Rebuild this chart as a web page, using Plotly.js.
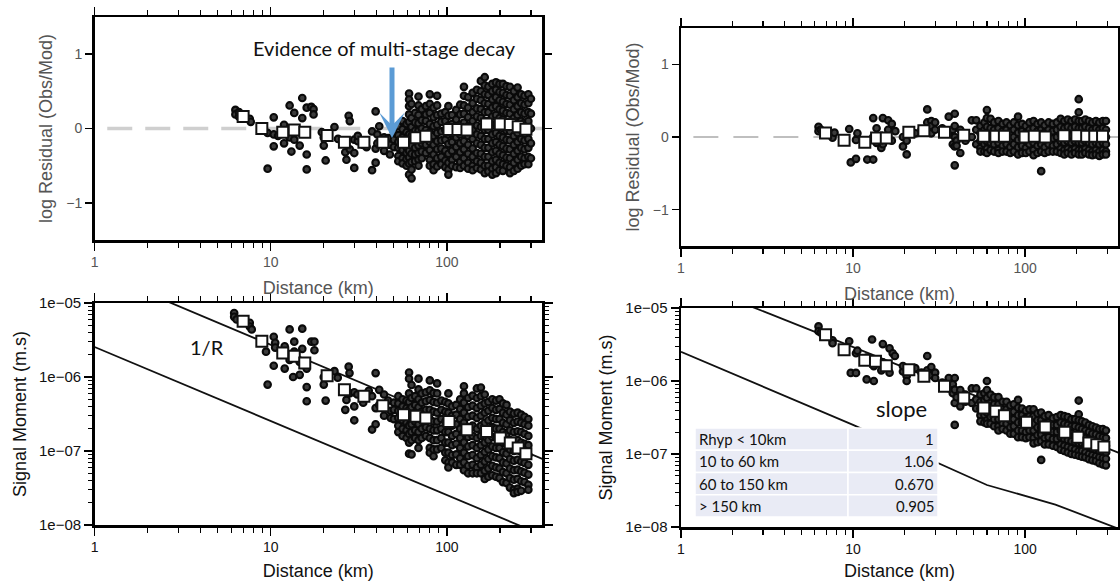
<!DOCTYPE html>
<html><head><meta charset="utf-8">
<script src="https://cdn.plot.ly/plotly-3.0.1.min.js"></script>
<style>html,body{margin:0;padding:0;background:#fff}#chart{width:1120px;height:581px}</style>
</head><body><div id="chart"></div>
<script>
// ---------- Panel A: log residual, 1/R model (top-left) ----------
const binDistA = [6.97,8.9,11.7,13.6,15.6,20.9,26.2,33.8,43.3,56.7,66.8,75.9,102.8,115.6,130,168,201,229,254,281];
const binResA  = [0.16,0.0,-0.05,-0.02,-0.05,-0.095,-0.185,-0.185,-0.185,-0.185,-0.126,-0.104,-0.014,-0.014,-0.02,0.06,0.06,0.055,0.025,-0.01];
const stDistA = [6.3,6.6,7.6,7.7,9.6,10.4,11.0,11.9,12.8,13.1,13.6,14.3,14.6,15.1,16.0,17.0,17.5,19.5,20.0,20.5,23.0,24.1,26.5,26.9,27.7,28.1,29.8,31.2,33.5,35.0,37.6,39.4,40.3,41.3,44.0,46.4,47.5,50.0,
  53,56,59,61,63,66,69,72,76,80,84,88,93,98,102,107,113,119,125,132,140,148,156,164,172,181,190,199,208,218,228,240,252,264,276,290,300];
const stResA = [[0.25,0.19],[0.16,0.22],[0.13],[0.09],[-0.54,-0.06],[-0.24,0.15,-0.08],[-0.1],[-0.2,0.05],[0.31,-0.12],[-0.31],[0.21,-0.15],[-0.05],[-0.23],[0.41,0.14],[0.28,-0.35,-0.55],[0.29],[0.26,0.19],[-0.05],[-0.23,-0.12],[-0.43],[0.02],[-0.14],[-0.32,-0.2],[-0.42],[0.17],[0.1,-0.28],[-0.53,-0.33,-0.15],[-0.17,-0.1],[-0.18,-0.22],[-0.25],[-0.56,-0.04],[-0.46,0.23,-0.27],[-0.08,-0.2],[0.03],[-0.3,-0.12],[-0.13],[-0.22,-0.35],[-0.05,-0.15,-0.25],
  [0.03,-0.09,-0.18,-0.26,-0.37,-0.44],
  [0.1,-0.01,-0.12,-0.21,-0.29,-0.4,-0.47],
  [0.06,-0.05,-0.14,-0.25,-0.33,-0.41,-0.5],
  [0.47,0.39,0.3,0.19,0.09,-0.08,-0.19,-0.3,-0.39,-0.47,-0.62],
  [0.33,0.14,0.02,-0.1,-0.23,-0.34,-0.45,-0.55,-0.67],
  [0.21,0.08,-0.03,-0.14,-0.26,-0.35,-0.44],
  [0.43,0.31,0.18,0.07,-0.03,-0.14,-0.23,-0.33,-0.42,-0.5],
  [0.26,0.11,0.0,-0.11,-0.2,-0.31,-0.4],
  [0.3,0.19,0.1,-0.02,-0.13,-0.22,-0.33],
  [0.46,0.33,0.21,0.06,-0.05,-0.18,-0.29,-0.42,-0.5],
  [0.28,0.15,0.03,-0.1,-0.22,-0.35,-0.48,-0.56],
  [0.44,0.31,0.18,0.05,-0.06,-0.17,-0.28,-0.4,-0.51],
  [0.2,0.09,-0.04,-0.16,-0.27,-0.38,-0.48],
  [0.22,0.1,-0.02,-0.15,-0.3,-0.43,-0.52],
  [0.3,0.17,0.04,-0.08,-0.21,-0.34,-0.46,-0.55,-0.62],
  [0.18,0.06,-0.07,-0.18,-0.3,-0.42,-0.5],
  [0.25,0.12,0.0,-0.12,-0.25,-0.38,-0.52],
  [0.32,0.19,0.05,-0.08,-0.2,-0.32,-0.45,-0.53],
  [0.56,0.44,0.31,0.2,0.08,-0.04,-0.17,-0.28,-0.4,-0.5],
  [0.42,0.28,0.15,0.03,-0.1,-0.22,-0.34,-0.46,-0.54],
  [0.48,0.34,0.22,0.1,-0.02,-0.14,-0.27,-0.38,-0.5,-0.56],
  [0.52,0.4,0.27,0.16,0.04,-0.08,-0.2,-0.33,-0.44,-0.53],
  [0.64,0.5,0.38,0.26,0.14,0.02,-0.1,-0.22,-0.34,-0.46,-0.55],
  [0.69,0.58,0.46,0.34,0.22,0.1,-0.02,-0.14,-0.26,-0.38,-0.5,-0.6],
  [0.56,0.45,0.33,0.22,0.1,-0.02,-0.14,-0.26,-0.38,-0.5,-0.58],
  [0.6,0.5,0.39,0.28,0.16,0.04,-0.08,-0.2,-0.32,-0.44,-0.54,-0.62],
  [0.62,0.52,0.42,0.3,0.18,0.06,-0.06,-0.18,-0.3,-0.42,-0.52,-0.6],
  [0.6,0.49,0.38,0.26,0.14,0.02,-0.1,-0.22,-0.34,-0.46,-0.56],
  [0.6,0.48,0.36,0.24,0.12,0.0,-0.12,-0.24,-0.36,-0.48,-0.57],
  [0.57,0.45,0.33,0.21,0.09,-0.03,-0.15,-0.27,-0.39,-0.5],
  [0.56,0.44,0.32,0.2,0.08,-0.04,-0.16,-0.28,-0.4,-0.52,-0.6],
  [0.5,0.38,0.26,0.14,0.02,-0.1,-0.22,-0.34,-0.46,-0.57],
  [0.55,0.42,0.3,0.18,0.06,-0.06,-0.18,-0.3,-0.42,-0.54],
  [0.46,0.34,0.22,0.1,-0.02,-0.14,-0.26,-0.38,-0.5],
  [0.44,0.32,0.2,0.08,-0.04,-0.16,-0.28,-0.4,-0.48],
  [0.46,0.34,0.22,0.1,-0.02,-0.14,-0.26,-0.38,-0.48],
  [0.4,0.2,0.0,-0.2,-0.4]];

// ---------- Panel B: log residual, multi-stage model (top-right) ----------
const binDistB = [6.92,8.87,11.7,13.7,15.6,21.1,25.8,34.0,44.0,57.5,67.6,75.8,100,113,131,168,200,228,254,282];
const binResB  = [0.055,-0.045,-0.073,-0.014,-0.014,0.064,0.086,0.064,0.023,0.009,0.009,0.009,0.0,0.009,0.0,0.018,0.018,0.009,0.009,0.009];
const stDistB = [6.3,6.5,7.6,7.8,9.5,9.7,10.4,10.6,12.1,13.1,13.7,14.6,14.9,16.0,16.8,17.6,19.5,20.5,23,25,27,28.5,30,33,36,38,39,40,42,45,49,52,
  55,58,60,63,66,70,74,78,82,86,91,96,101,106,112,118,124,130,137,145,153,161,169,177,186,195,205,214,224,235,246,258,270,283,295];
const stResB = [[0.14,0.08],[0.1],[0.03,-0.01],[0.06],[0.11],[-0.35],[-0.3,-0.04],[0.05],[-0.31],[0.26,-0.31,0.0],[0.12,-0.08],[-0.15],[0.26,-0.1],[0.23,0.1],[0.18,-0.05],[0.08],[-0.13,0.0],[-0.24,-0.05],[0.05],[0.1],[0.38,0.2],[0.22,0.15,0.05],[0.2,0.1],[0.12],[0.28,0.05],[0.1,-0.1],[0.32,-0.13,-0.39,0.15,0.0],[-0.05,-0.12],[-0.22,0.1],[0.05,-0.05],[0.23,0.0],[0.23,0.1,-0.1],
  [0.15,0.05,-0.05,-0.15,-0.2],
  [0.2,0.1,0.0,-0.1,-0.2],
  [0.37,0.26,0.14,0.04,-0.06,-0.16,-0.22],
  [0.25,0.12,0.02,-0.08,-0.18],
  [0.2,0.1,0.0,-0.1,-0.2],
  [0.22,0.12,0.02,-0.08,-0.18,-0.22],
  [0.18,0.08,-0.02,-0.12,-0.2],
  [0.2,0.1,0.0,-0.1,-0.2],
  [0.16,0.06,-0.04,-0.14,-0.22],
  [0.2,0.1,0.0,-0.1,-0.2],
  [0.28,0.16,0.06,-0.04,-0.14,-0.24],
  [0.18,0.08,-0.02,-0.12,-0.22],
  [0.15,0.05,-0.05,-0.15,-0.22],
  [0.2,0.1,0.0,-0.1,-0.2],
  [0.22,0.12,0.02,-0.08,-0.18,-0.25],
  [0.18,0.08,-0.02,-0.12,-0.22],
  [0.2,0.1,0.0,-0.1,-0.2,-0.47],
  [0.16,0.06,-0.04,-0.14,-0.22],
  [0.2,0.1,0.0,-0.1,-0.2],
  [0.18,0.08,-0.02,-0.12,-0.2],
  [0.2,0.1,0.0,-0.1,-0.2],
  [0.25,0.14,0.04,-0.06,-0.16,-0.22],
  [0.22,0.12,0.02,-0.08,-0.18,-0.24],
  [0.24,0.14,0.04,-0.06,-0.16,-0.22],
  [0.22,0.12,0.02,-0.08,-0.18,-0.24],
  [0.24,0.14,0.04,-0.06,-0.16,-0.22],
  [0.52,0.34,0.22,0.12,0.02,-0.08,-0.18,-0.24],
  [0.22,0.12,0.02,-0.08,-0.18,-0.24],
  [0.24,0.14,0.04,-0.06,-0.16,-0.22],
  [0.22,0.12,0.02,-0.08,-0.18,-0.24],
  [0.2,0.1,0.0,-0.1,-0.2,-0.25],
  [0.22,0.12,0.02,-0.08,-0.18,-0.24],
  [0.2,0.1,0.0,-0.1,-0.2,-0.26],
  [0.22,0.12,0.02,-0.08,-0.18,-0.24],
  [0.22,0.1,0.0,-0.1,-0.2,-0.24]];

// ---------- Panel C: signal moment with 1/R lines (bottom-left) ----------
const binDistC = [6.97,8.9,11.7,13.6,15.6,20.9,26.2,33.8,43.3,56.7,66.8,75.9,102.8,130,168,201,229,254,281];
const binMomC  = [5.65e-6,3.03e-6,2.11e-6,1.9e-6,1.55e-6,1.04e-6,6.7e-7,5.5e-7,4.1e-7,3.1e-7,2.94e-7,2.79e-7,2.5e-7,1.94e-7,1.84e-7,1.5e-7,1.28e-7,1.1e-7,9.2e-8];
const stDistC = [6.2,6.4,7.6,7.8,9.4,9.6,10.4,10.6,12.0,12.8,13.4,13.6,14.6,15.1,16.0,17.0,17.7,20.0,20.5,23,24,26.5,26.9,27.7,28,29.8,31,33.5,36,37.6,39.4,41.3,44,46.4,48,50,
  53,56,59,61,63,66,69,72,76,80,84,88,93,98,102,107,113,119,125,132,140,148,156,164,172,181,190,199,208,218,228,240,252,264,276,290];
const stMomC = [[7.3e-6,6.5e-6],[6.0e-6],[5.4e-6,4.8e-6],[4.4e-6],[2.2e-6],[7.9e-7],[3.5e-6,1.42e-6],[2.9e-6,2.5e-6],[1.3e-6,2.6e-6],[4.4e-6,1.7e-6],[1.0e-6],[3.0e-6,2.2e-6],[1.07e-6,1.6e-6],[4.5e-6,2.4e-6],[7.3e-7,4.7e-7,1.3e-6],[3.0e-6],[3.0e-6,2.3e-6],[7.9e-7,1.0e-6],[4.8e-7],[1.2e-6],[9.8e-7],[3.6e-7,6.5e-7],[4.9e-7],[1.38e-6],[1.13e-6,6e-7],[2.6e-7,4.0e-7,6.2e-7],[5.8e-7],[5.2e-7,4.5e-7],[6.5e-7],[1.95e-7,5.5e-7],[2.3e-7,1.13e-6,3.8e-7],[6.7e-7,4.2e-7],[3.0e-7,5.8e-7],[4.8e-7],[3.5e-7,2.8e-7],[4.5e-7,3.6e-7,2.7e-7],
  [5.5e-7,4.4e-7,3.5e-7,2.8e-7,2.2e-7,1.8e-7],
  [5e-7,4e-7,3.2e-7,2.6e-7,2.0e-7,1.6e-7],
  [4.8e-7,3.8e-7,3.0e-7,2.4e-7,1.9e-7,1.5e-7],
  [1.15e-6,9.5e-7,6e-7,4.6e-7,3.6e-7,2.8e-7,2.2e-7,1.7e-7,1.3e-7,9.2e-8],
  [7.8e-7,5.2e-7,3.9e-7,3.0e-7,2.3e-7,1.8e-7,1.4e-7,9e-8],
  [5.5e-7,4.2e-7,3.2e-7,2.5e-7,1.9e-7,1.5e-7],
  [9.5e-7,6.8e-7,5e-7,3.9e-7,3e-7,2.3e-7,1.8e-7,1.4e-7,1.1e-7],
  [6e-7,4.5e-7,3.4e-7,2.6e-7,2.0e-7,1.5e-7],
  [6.2e-7,4.7e-7,3.6e-7,2.7e-7,2.1e-7,1.6e-7],
  [9e-7,6.6e-7,4.9e-7,3.6e-7,2.7e-7,2.0e-7,1.5e-7,1.1e-7,9.5e-8],
  [6.1e-7,4.6e-7,3.4e-7,2.5e-7,1.9e-7,1.4e-7,1.05e-7,8.5e-8],
  [8.2e-7,6.0e-7,4.5e-7,3.3e-7,2.5e-7,1.9e-7,1.4e-7,1.05e-7],
  [4.8e-7,3.6e-7,2.7e-7,2.0e-7,1.5e-7,1.1e-7],
  [4.6e-7,3.4e-7,2.5e-7,1.8e-7,1.3e-7,9.5e-8,7.5e-8],
  [6.0e-7,4.4e-7,3.3e-7,2.4e-7,1.8e-7,1.3e-7,9.5e-8,7e-8,6e-8],
  [4.0e-7,3.0e-7,2.2e-7,1.6e-7,1.2e-7,8.8e-8,7e-8],
  [4.2e-7,3.1e-7,2.3e-7,1.7e-7,1.25e-7,9e-8,6.5e-8],
  [5e-7,3.7e-7,2.7e-7,2e-7,1.5e-7,1.1e-7,8e-8,6.5e-8],
  [7.5e-7,6e-7,4.5e-7,3.3e-7,2.4e-7,1.8e-7,1.3e-7,9.5e-8,7e-8,5.5e-8],
  [5.2e-7,3.9e-7,2.9e-7,2.1e-7,1.55e-7,1.15e-7,8.5e-8,6.3e-8,5e-8],
  [5.6e-7,4.1e-7,3.0e-7,2.2e-7,1.6e-7,1.2e-7,8.8e-8,6.5e-8,5e-8],
  [7e-7,5.2e-7,3.8e-7,2.8e-7,2.0e-7,1.5e-7,1.1e-7,8e-8,6e-8,5e-8],
  [7.2e-7,5.5e-7,4.1e-7,3.0e-7,2.2e-7,1.6e-7,1.2e-7,8.8e-8,6.5e-8,5e-8],
  [5.8e-7,4.4e-7,3.3e-7,2.4e-7,1.8e-7,1.3e-7,9.7e-8,7.2e-8,5.4e-8,4.2e-8],
  [4.6e-7,3.5e-7,2.6e-7,1.9e-7,1.4e-7,1.05e-7,7.8e-8,5.8e-8,4.5e-8],
  [5e-7,3.8e-7,2.8e-7,2.1e-7,1.55e-7,1.15e-7,8.5e-8,6.3e-8,4.7e-8],
  [4.8e-7,3.6e-7,2.7e-7,2.0e-7,1.5e-7,1.1e-7,8.2e-8,6e-8,4.5e-8],
  [5e-7,3.7e-7,2.7e-7,2.0e-7,1.5e-7,1.1e-7,8e-8,5.8e-8,4.3e-8],
  [4.4e-7,3.3e-7,2.4e-7,1.8e-7,1.3e-7,9.6e-8,7e-8,5.2e-8,3.8e-8],
  [4.2e-7,3.1e-7,2.3e-7,1.7e-7,1.25e-7,9.2e-8,6.8e-8,5e-8,3.7e-8],
  [3.4e-7,2.6e-7,1.9e-7,1.4e-7,1.05e-7,7.8e-8,5.8e-8,4.3e-8,3.2e-8],
  [3.2e-7,2.4e-7,1.8e-7,1.35e-7,1e-7,7.4e-8,5.5e-8,4.1e-8,3.0e-8,2.7e-8],
  [3.3e-7,2.5e-7,1.85e-7,1.4e-7,1.03e-7,7.6e-8,5.6e-8,4.2e-8,3.1e-8,2.8e-8],
  [3.1e-7,2.4e-7,1.8e-7,1.3e-7,9.8e-8,7.2e-8,5.3e-8,3.9e-8,2.9e-8],
  [2.9e-7,2.3e-7,1.7e-7,1.25e-7,9.3e-8,6.9e-8,5.1e-8,3.8e-8],
  [2.7e-7,2.2e-7,1.6e-7,1.2e-7,8.8e-8,6.5e-8,4.8e-8,3.5e-8,3.0e-8]];
const lineDistC  = [1, 350];
const oneOverRHi = [2.72e-5, 7.77e-8];
const oneOverRLo = [2.54e-6, 7.26e-9];

// ---------- Panel D: signal moment, multi-stage decay (bottom-right) ----------
const binDistD = [6.92,8.87,11.7,13.5,15.6,21.1,25.8,34.0,44.0,57.5,67.6,75.8,102,131,170,203,235,261,287];
const binMomD  = [4.3e-6,2.68e-6,1.92e-6,1.86e-6,1.62e-6,1.43e-6,1.16e-6,8.45e-7,5.85e-7,4.26e-7,3.84e-7,3.35e-7,2.72e-7,2.34e-7,1.98e-7,1.7e-7,1.42e-7,1.34e-7,1.25e-7];
const stDistD = [6.3,6.5,7.6,9.5,9.7,10.4,10.6,12.0,12.9,13.2,14.6,14.9,16.3,17.0,17.5,19.5,20.5,23,25,27,28.5,30,33,36,38,39,40,42,45,49,52,
  55,58,60,63,66,70,74,78,82,86,91,96,101,106,112,118,124,130,137,145,153,161,169,177,186,195,205,214,224,235,246,258,270,283,295];
const stMomD = [[5.6e-6,4.8e-6],[4.6e-6],[3.6e-6,3.3e-6],[3.5e-6],[1.29e-6],[1.29e-6,2.4e-6],[2.6e-6],[1.05e-6,2.1e-6],[3.7e-6,2.0e-6],[1.0e-6,1.6e-6],[1.4e-6],[3.2e-6,1.8e-6],[2.8e-6,1.3e-6],[2.4e-6],[2.2e-6],[1.35e-6,1.6e-6],[1.17e-6,1e-6],[1.5e-6],[1.3e-6],[2.2e-6,1.4e-6],[1.55e-6,1.2e-6],[1.3e-6,1.1e-6],[9.5e-7],[1.1e-6,8e-7],[9e-7,6.8e-7],[1.1e-6,7.6e-7,2.5e-7,5e-7],[6.0e-7],[4.5e-7,7.5e-7],[6.5e-7,5.2e-7],[7.9e-7,5e-7],[7.9e-7,5.6e-7,4.2e-7],
  [6.5e-7,5.2e-7,4.2e-7,3.4e-7,2.8e-7],
  [6.8e-7,5.4e-7,4.3e-7,3.4e-7,2.7e-7],
  [1.0e-6,7.5e-7,5.9e-7,4.7e-7,3.7e-7,2.9e-7,2.6e-7],
  [6.5e-7,5e-7,4e-7,3.2e-7,2.6e-7],
  [6e-7,4.8e-7,3.8e-7,3.0e-7,2.4e-7],
  [6e-7,4.8e-7,3.8e-7,3.0e-7,2.4e-7,2.1e-7],
  [5.2e-7,4.1e-7,3.3e-7,2.6e-7,2.2e-7],
  [5.2e-7,4.1e-7,3.2e-7,2.6e-7,2.1e-7],
  [4.6e-7,3.7e-7,2.9e-7,2.3e-7,1.9e-7],
  [4.8e-7,3.8e-7,3.0e-7,2.4e-7,1.9e-7],
  [5.5e-7,4.3e-7,3.4e-7,2.7e-7,2.1e-7,1.7e-7],
  [4.2e-7,3.4e-7,2.7e-7,2.1e-7,1.7e-7],
  [3.9e-7,3.1e-7,2.5e-7,2.0e-7,1.65e-7],
  [4.1e-7,3.3e-7,2.6e-7,2.1e-7,1.7e-7],
  [4.1e-7,3.3e-7,2.6e-7,2.1e-7,1.65e-7,1.4e-7],
  [3.6e-7,2.9e-7,2.3e-7,1.8e-7,1.45e-7],
  [3.7e-7,2.9e-7,2.3e-7,1.85e-7,1.5e-7,8.3e-8],
  [3.3e-7,2.6e-7,2.1e-7,1.65e-7,1.35e-7],
  [3.4e-7,2.7e-7,2.15e-7,1.7e-7,1.35e-7],
  [3.1e-7,2.5e-7,2.0e-7,1.6e-7,1.3e-7],
  [3.2e-7,2.5e-7,2.0e-7,1.6e-7,1.25e-7],
  [3.4e-7,2.7e-7,2.1e-7,1.7e-7,1.35e-7,1.15e-7],
  [3.3e-7,2.6e-7,2.05e-7,1.6e-7,1.3e-7,1.1e-7],
  [3.2e-7,2.5e-7,2.0e-7,1.55e-7,1.25e-7,1.05e-7],
  [3.0e-7,2.4e-7,1.9e-7,1.5e-7,1.2e-7,1.0e-7],
  [3.0e-7,2.4e-7,1.85e-7,1.45e-7,1.15e-7,9.8e-8],
  [5.4e-7,3.5e-7,2.9e-7,2.3e-7,1.8e-7,1.4e-7,1.1e-7,9.5e-8],
  [2.8e-7,2.2e-7,1.75e-7,1.4e-7,1.1e-7,9.2e-8],
  [2.7e-7,2.1e-7,1.65e-7,1.3e-7,1.05e-7,9e-8],
  [2.5e-7,2e-7,1.6e-7,1.25e-7,1.0e-7,8.5e-8],
  [2.4e-7,1.9e-7,1.5e-7,1.2e-7,9.6e-8,8.2e-8],
  [2.3e-7,1.85e-7,1.45e-7,1.15e-7,9.3e-8,8e-8],
  [2.2e-7,1.75e-7,1.4e-7,1.1e-7,9e-8,7.5e-8],
  [2.2e-7,1.7e-7,1.35e-7,1.08e-7,8.8e-8,7.2e-8],
  [2.1e-7,1.65e-7,1.3e-7,1.05e-7,8.6e-8,7e-8]];
const lineDistD   = [1, 350];
const fitUpperD   = [2.53e-5, 1.04e-7];
const stageDistD  = [1, 10, 60, 150, 350];
const stageMomD   = [2.51e-6, 2.51e-7, 3.76e-8, 2.03e-8, 9.44e-9];

// zero-residual reference line
const zeroDist = [1.18, 350];
const zeroRes  = [0, 0];

// slope table
const tableRange = ['Rhyp < 10km', '10 to 60 km', '60 to 150 km', '> 150 km'];
const tableSlope = ['1', '1.06', '0.670', '0.905'];

// tick labels
const decTicks = [1, 10, 100];
const decText  = ['1', '10', '100'];
const minorX   = [2,3,4,5,6,7,8,9,20,30,40,50,60,70,80,90,200,300];
const resTicks = [-1, 0, 1];
const momTicks = [1e-8, 1e-7, 1e-6, 1e-5];
const momText  = ['1e\u221208', '1e\u221207', '1e\u221206', '1e\u221205'];

// ---------- build ----------
const W = 1120, H = 581;
const PX = x => x / W, PY = y => 1 - y / H;
const minorY = [];
[1e-8, 1e-7, 1e-6].forEach(d => { for (let k = 2; k <= 9; k++) minorY.push(k * d); });

function flat(dists, vals) {
  const x = [], y = [];
  dists.forEach((d, i) => vals[i].forEach(v => { x.push(d); y.push(v); }));
  return {x, y};
}
const circ = {symbol: 'circle', size: 6.6, color: '#3c3c3c', line: {width: 2.1, color: '#0a0a0a'}};
const sq = {symbol: 'square', size: 11, color: '#fff', line: {width: 2, color: '#111'}};

const A = flat(stDistA, stResA), B = flat(stDistB, stResB), C = flat(stDistC, stMomC), D = flat(stDistD, stMomD);
const traces = [
  {x: zeroDist, y: zeroRes, xaxis: 'x', yaxis: 'y', mode: 'lines', line: {color: '#cfcfcf', width: 3.5, dash: '25px,13px'}},
  {x: A.x, y: A.y, xaxis: 'x', yaxis: 'y', mode: 'markers', marker: circ},
  {x: binDistA, y: binResA, xaxis: 'x', yaxis: 'y', mode: 'markers', marker: sq},

  {x: zeroDist, y: zeroRes, xaxis: 'x2', yaxis: 'y2', mode: 'lines', line: {color: '#aaaaaa', width: 1.5, dash: '25px,15px'}},
  {x: B.x, y: B.y, xaxis: 'x2', yaxis: 'y2', mode: 'markers', marker: circ},
  {x: binDistB, y: binResB, xaxis: 'x2', yaxis: 'y2', mode: 'markers', marker: sq},

  {x: lineDistC, y: oneOverRHi, xaxis: 'x3', yaxis: 'y3', mode: 'lines', line: {color: '#111', width: 1.8}},
  {x: lineDistC, y: oneOverRLo, xaxis: 'x3', yaxis: 'y3', mode: 'lines', line: {color: '#111', width: 1.8}},
  {x: C.x, y: C.y, xaxis: 'x3', yaxis: 'y3', mode: 'markers', marker: circ},
  {x: binDistC, y: binMomC, xaxis: 'x3', yaxis: 'y3', mode: 'markers', marker: sq},

  {x: lineDistD, y: fitUpperD, xaxis: 'x4', yaxis: 'y4', mode: 'lines', line: {color: '#111', width: 1.8}},
  {x: stageDistD, y: stageMomD, xaxis: 'x4', yaxis: 'y4', mode: 'lines', line: {color: '#111', width: 1.8}},
  {x: D.x, y: D.y, xaxis: 'x4', yaxis: 'y4', mode: 'markers', marker: circ},
  {x: binDistD, y: binMomD, xaxis: 'x4', yaxis: 'y4', mode: 'markers', marker: sq}
];

const FONT = 'Liberation Sans, Arial, Helvetica, sans-serif';
const TXT = 'Lato, Carlito, Calibri, sans-serif';
function xAx(l, r, anchor, col, standoff) {
  return {type: 'log', domain: [PX(l), PX(r)], range: [0, 2.54], anchor: anchor,
    tickmode: 'array', tickvals: decTicks, ticktext: decText,
    ticks: 'outside', ticklen: 8, tickwidth: 1.5, tickcolor: '#000',
    showline: true, linecolor: '#000', linewidth: 2.5, mirror: 'allticks',
    showgrid: false, zeroline: false,
    minor: {tickmode: 'array', tickvals: minorX, ticks: 'outside', ticklen: 5, tickwidth: 1.2, tickcolor: '#000', showgrid: false},
    tickfont: {family: FONT, size: 14, color: col},
    title: {text: 'Distance (km)', font: {family: FONT, size: 18, color: col}, standoff: standoff}};
}
function yRes(t, b, anchor, standoff) {
  return {domain: [PY(b), PY(t)], range: [-1.5, 1.5], anchor: anchor,
    tickmode: 'array', tickvals: resTicks, ticks: 'outside', ticklen: 7, tickwidth: 1.5, tickcolor: '#000',
    showline: true, linecolor: '#000', linewidth: 2.5, mirror: 'allticks',
    showgrid: false, zeroline: false,
    tickfont: {family: FONT, size: 14, color: '#555'},
    title: {text: 'log Residual (Obs/Mod)', font: {family: FONT, size: 18, color: '#555'}, standoff: standoff}};
}
function yMom(t, b, anchor) {
  return {type: 'log', domain: [PY(b), PY(t)], range: [-8, -5], anchor: anchor,
    tickmode: 'array', tickvals: momTicks, ticktext: momText, ticks: 'outside', ticklen: 8, tickwidth: 1.5, tickcolor: '#000',
    showline: true, linecolor: '#000', linewidth: 2.5, mirror: 'allticks',
    showgrid: false, zeroline: false,
    minor: {tickmode: 'array', tickvals: minorY, ticks: 'outside', ticklen: 4, tickwidth: 1, tickcolor: '#000', showgrid: false},
    tickfont: {family: FONT, size: 15, color: '#111'},
    title: {text: 'Signal Moment (m.s)', font: {family: FONT, size: 18, color: '#111'}, standoff: 8}};
}

const tbl = {l: 695, m: 848, r: 938, t: 428, rh: 22.25};
const shapes = [], annotations = [];
tableRange.forEach((lab, i) => {
  const y0 = tbl.t + i * tbl.rh, y1 = y0 + tbl.rh;
  shapes.push({type: 'rect', xref: 'paper', yref: 'paper', x0: PX(tbl.l), x1: PX(tbl.m), y0: PY(y1), y1: PY(y0), fillcolor: '#e9ebf5', line: {color: '#fff', width: 1.5}, layer: 'above'});
  shapes.push({type: 'rect', xref: 'paper', yref: 'paper', x0: PX(tbl.m), x1: PX(tbl.r), y0: PY(y1), y1: PY(y0), fillcolor: '#e9ebf5', line: {color: '#fff', width: 1.5}, layer: 'above'});
  annotations.push({xref: 'paper', yref: 'paper', x: PX(tbl.l + 2), y: PY(y0 + tbl.rh / 2), xanchor: 'left', yanchor: 'middle', text: lab, showarrow: false, font: {family: TXT, size: 15, color: '#111'}});
  annotations.push({xref: 'paper', yref: 'paper', x: PX(tbl.r - 2), y: PY(y0 + tbl.rh / 2), xanchor: 'right', yanchor: 'middle', text: tableSlope[i], showarrow: false, font: {family: TXT, size: 15, color: '#111'}});
});
annotations.push({xref: 'paper', yref: 'paper', x: PX(901), y: PY(408), xanchor: 'center', yanchor: 'middle', text: 'slope', showarrow: false, font: {family: TXT, size: 22, color: '#111'}});
annotations.push({xref: 'paper', yref: 'paper', x: PX(207), y: PY(347), xanchor: 'center', yanchor: 'middle', text: '1/R', showarrow: false, font: {family: TXT, size: 20, color: '#111'}});
annotations.push({xref: 'paper', yref: 'paper', x: PX(384), y: PY(48), xanchor: 'center', yanchor: 'middle', text: 'Evidence of multi-stage decay', showarrow: false, font: {family: TXT, size: 20, color: '#111'}});
annotations.push({xref: 'paper', yref: 'paper', x: PX(392), y: PY(138), text: '', showarrow: true, ax: 0, ay: -72, arrowcolor: '#5b9bd5', arrowwidth: 5, arrowhead: 3, arrowsize: 0.85, standoff: 0});

const layout = {
  width: W, height: H, margin: {l: 0, r: 0, t: 0, b: 0},
  paper_bgcolor: '#fff', plot_bgcolor: '#fff', showlegend: false,
  xaxis: xAx(94.6, 542, 'y', '#555', 12),
  yaxis: yRes(17, 240, 'x', 9),
  xaxis2: xAx(681, 1118, 'y2', '#555', 12),
  yaxis2: yRes(28, 246, 'x2', 9),
  xaxis3: xAx(94.6, 542, 'y3', '#111', 12),
  yaxis3: yMom(303, 525, 'x3'),
  xaxis4: xAx(681, 1118, 'y4', '#111', 12),
  yaxis4: yMom(308, 527, 'x4'),
  shapes: shapes, annotations: annotations
};
Plotly.newPlot('chart', traces, layout, {staticPlot: true, displayModeBar: false});
</script></body></html>
